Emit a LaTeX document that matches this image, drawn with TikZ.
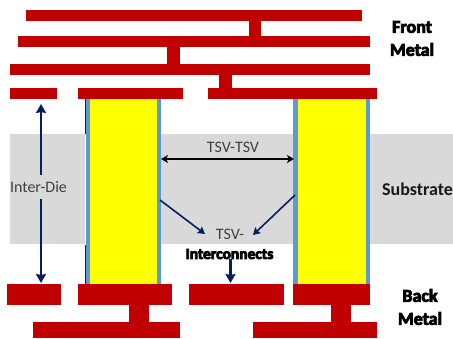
\documentclass[tikz,border=0pt]{standalone}
\usepackage{fontspec}
\setmainfont{Carlito}
\usetikzlibrary{arrows.meta}
\definecolor{metal}{HTML}{C00000}
\definecolor{liner}{HTML}{5B9BD5}
\definecolor{navy}{HTML}{002060}
\definecolor{subst}{HTML}{D9D9D9}
\definecolor{txt}{HTML}{404040}
\definecolor{tsvcore}{HTML}{FFFF00}
\tikzset{
  metalbar/.style={fill=metal,draw=none},
  linerbar/.style={fill=liner,draw=none},
  core/.style={fill=tsvcore,draw=none},
  substrate/.style={fill=subst,draw=none},
  navyarrow/.style={draw=navy,line width=2.4pt,-{Stealth[length=9pt,width=10pt,inset=1pt]}},
  thinnavy/.style={draw=navy,line width=1.6pt,-{Stealth[length=7pt,width=8pt,inset=1pt]}},
  dimarrow/.style={draw=black,line width=1.3pt,{Stealth[length=7pt,width=8pt,inset=2pt]}-{Stealth[length=7pt,width=8pt,inset=2pt]}},
  lab/.style={inner sep=0pt,font=\fontsize{16}{18}\selectfont,text=txt},
  heavy/.style={inner sep=0pt,font=\fontsize{18}{23}\selectfont\bfseries,text=black,align=center},
}
\newcommand{\fuzzy}[1]{\special{pdf:literal 2 Tr 0.8 w}#1\special{pdf:literal 0 Tr 1 w}}
\begin{document}
\begin{tikzpicture}[x=1pt,y=-1pt]
\useasboundingbox (0,0) rectangle (453,338);
% substrate
\fill[substrate] (10,134) rectangle (85,244);
\fill[substrate] (161,134) rectangle (293,244);
\fill[substrate] (370,134) rectangle (453,244);
% TSVs
\fill[navy] (85,98) rectangle (86,134);
\fill[navy] (85,245) rectangle (86,285);
\fill[linerbar] (86,98) rectangle (161,285);
\fill[core] (89.5,98) rectangle (157,285);
\fill[linerbar] (293,98) rectangle (370,285);
\fill[core] (298,98) rectangle (366,285);
% front metal
\fill[metalbar] (26,10) rectangle (362,21);
\fill[metalbar] (249,21) rectangle (261,36);
\fill[metalbar] (18,36) rectangle (370,47);
\fill[metalbar] (167,47) rectangle (180,64);
\fill[metalbar] (10,64) rectangle (370,75);
\fill[metalbar] (219,75) rectangle (232,88);
\fill[metalbar] (10,88) rectangle (57,99);
\fill[metalbar] (78,88) rectangle (183,99);
\fill[metalbar] (208,88) rectangle (377,99);
% back metal
\fill[metalbar] (7,284) rectangle (61,305);
\fill[metalbar] (78,284) rectangle (172,305);
\fill[metalbar] (189,284) rectangle (284,305);
\fill[metalbar] (293,284) rectangle (370,305);
\fill[metalbar] (129,305) rectangle (149,322);
\fill[metalbar] (331,305) rectangle (351,322);
\fill[metalbar] (33,322) rectangle (180,338);
\fill[metalbar] (253,322) rectangle (377,338);
% labels
\node[lab] (interdie) at (38.5,187.5) {Inter-Die};
\node[lab] (tsvtsv) at (233,147) {TSV-TSV};
\node[lab] (tsvtop) at (230,234) {TSV-};
\node[heavy,font=\fontsize{15.5}{18}\selectfont\bfseries] (interc) at (229.5,254) {\fuzzy{Interconnects}};
\node[heavy,font=\fontsize{18}{22}\selectfont\bfseries,text=black!90] (substr) at (417.5,189.5) {Substrate};
\node[heavy] (front) at (412,38.5) {\fuzzy{Front}\\\fuzzy{Metal}};
\node[heavy] (back) at (420,307) {\fuzzy{Back}\\\fuzzy{Metal}};
% connectors
\coordinate (dieTop) at (41,104);
\coordinate (dieBot) at (41,283);
\coordinate (tsvL) at (161,159);
\coordinate (tsvR) at (294,159);
\coordinate (diagL) at (160,200);
\coordinate (diagLend) at (205,234);
\coordinate (diagR) at (295,195);
\coordinate (diagRend) at (253,235);
\coordinate (icBot) at (230.5,283);
\draw[navyarrow] (41,175) -- (dieTop);
\draw[navyarrow] (41,199) -- (dieBot);
\draw[dimarrow] (tsvL) -- (tsvR);
\draw[thinnavy] (diagL) -- (diagLend);
\draw[thinnavy] (diagR) -- (diagRend);
\draw[navyarrow] (interc.south -| icBot) -- (icBot);
\end{tikzpicture}
\end{document}
